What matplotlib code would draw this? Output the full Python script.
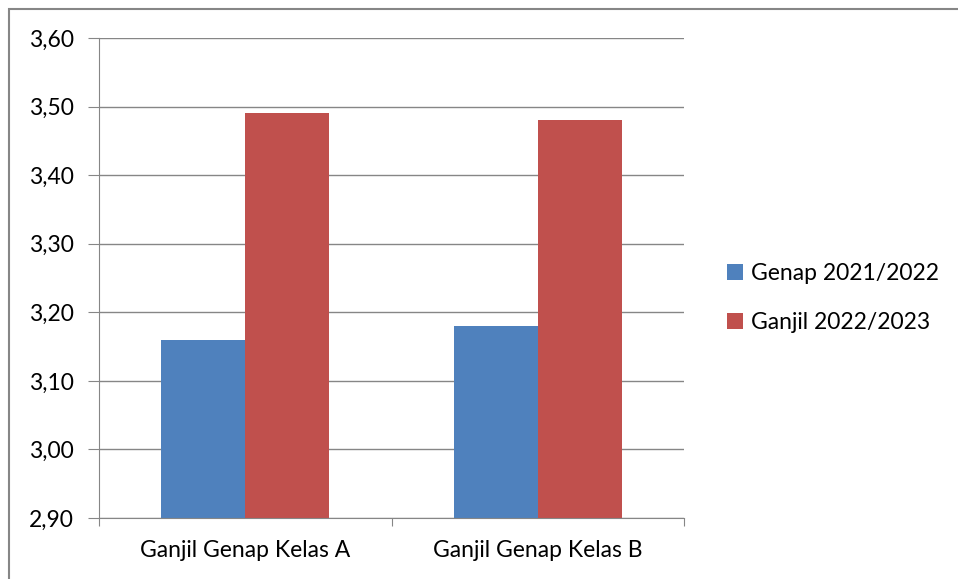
import matplotlib.pyplot as plt
import numpy as np
from matplotlib.patches import Rectangle

categories = ['Ganjil Genap Kelas A', 'Ganjil Genap Kelas B']
series = ['Genap 2021/2022', 'Ganjil 2022/2023']
genap = [3.16, 3.18]
ganjil = [3.49, 3.48]
yticks = [2.90, 3.00, 3.10, 3.20, 3.30, 3.40, 3.50, 3.60]

plt.rcParams['font.family'] = ['Lato', 'DejaVu Sans']
grey = '#868686'

fig = plt.figure(figsize=(9.58, 5.79), dpi=100)
ax = fig.add_axes([99 / 958, 1 - 518 / 579, 585 / 958, 480 / 579])

x = np.arange(len(categories))
w = 0.288
ax.bar(x - w / 2, genap, w, color='#4F81BD', label=series[0], zorder=3)
ax.bar(x + w / 2, ganjil, w, color='#C0504D', label=series[1], zorder=3)

ax.set_xlim(-0.5, 1.5)
ax.set_ylim(2.90, 3.60)
ax.set_yticks(yticks)
ax.set_yticklabels([f'{v:.2f}'.replace('.', ',') for v in yticks], fontsize=16.5)
ax.set_xticks([-0.5, 0.5, 1.5], minor=False)
ax.set_xticklabels([])
ax.set_xticks(x, minor=True)
ax.set_xticklabels(categories, minor=True, fontsize=16.5)
ax.tick_params(axis='x', which='minor', length=0, pad=16)
ax.tick_params(axis='x', which='major', length=6, color=grey, direction='out')
ax.tick_params(axis='y', length=8, color=grey, pad=10)

ax.grid(axis='y', color=grey, linewidth=1, zorder=0)
for s in ['top', 'right']:
    ax.spines[s].set_visible(False)
for s in ['left', 'bottom']:
    ax.spines[s].set_color(grey)
    ax.spines[s].set_zorder(4)

ax.legend(loc='center left', bbox_to_anchor=(718 / 958, 1 - 298 / 579),
          bbox_transform=fig.transFigure, frameon=False, fontsize=16.5,
          handlelength=0.7, handleheight=0.7, handletextpad=0.35,
          labelspacing=1.2, borderaxespad=0)

# outer chart border
fig.add_artist(Rectangle((9 / 958, -0.1), 1.2, 1 - 9 / 579 + 0.1,
                         transform=fig.transFigure, fill=False,
                         edgecolor=grey, linewidth=1.5))

fig.savefig('out.png', dpi=100)
